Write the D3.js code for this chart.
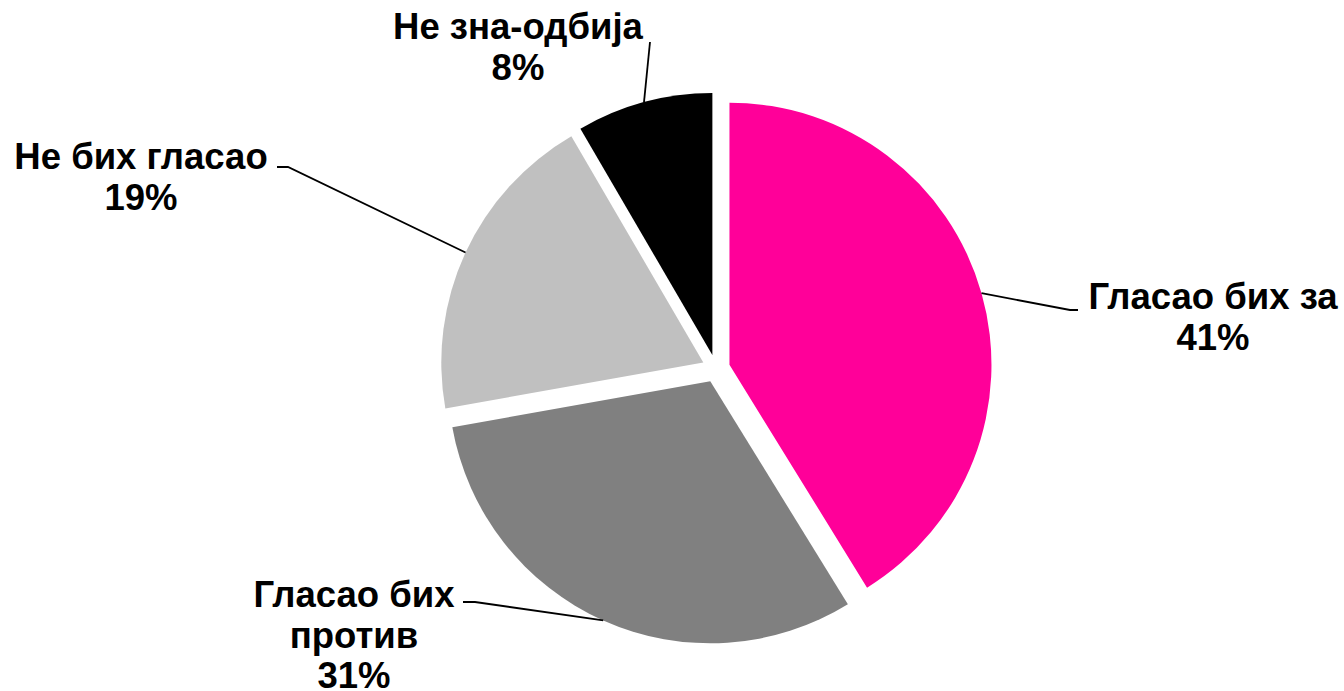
<!DOCTYPE html>
<html>
<head>
<meta charset="utf-8">
<script src="https://cdn.jsdelivr.net/npm/d3@7"></script>
<style>
    body { margin: 0; background: #ffffff; }
    svg { display: block; }
</style>
</head>
<body>
<svg id="drawing_region"></svg>
<script>
const categories = [ "Гласао бих за", "Гласао бих\nпротив", "Не бих гласао", "Не зна-одбија" ];
const values = [ 41.2, 31.0, 19.4, 8.4 ];
const colors = [ "#ff0099", "#808080", "#c0c0c0", "#000000" ];

// where Excel had put each label (first baseline) and the bends of its leader line
const label_layout = [
    { x: 1213, y: 309, bend: [ [ 1070, 310 ], [ 1078, 310 ] ] },
    { x: 354,  y: 607, bend: [ [ 475, 602 ], [ 463, 602 ] ] },
    { x: 141,  y: 169, bend: [ [ 288, 167 ], [ 277, 167 ] ] },
    { x: 518,  y: 39,  bend: [ [ 650, 42 ] ] }
];

class PieChart {
    constructor( config, data ) {
        this.config = {
            parent: config.parent,
            width: config.width || 256,
            height: config.height || 256,
            cx: config.cx,
            cy: config.cy,
            radius: config.radius,
            explode: config.explode || 0,
            font_size: config.font_size || 16,
            line_height: config.line_height || 20
        };
        this.data = data;
        this.init();
    }

    init() {
        let self = this;

        self.svg = d3.select( self.config.parent )
            .attr( 'width', self.config.width )
            .attr( 'height', self.config.height );

        self.chart = self.svg.append( 'g' )
            .attr( 'transform', `translate(${self.config.cx}, ${self.config.cy})` );

        self.pie = d3.pie()
            .sort( null )
            .value( d => d.value );

        self.arc = d3.arc()
            .innerRadius( 0 )
            .outerRadius( self.config.radius );

        self.line = d3.line();
    }

    update() {
        let self = this;
        self.arcs = self.pie( self.data );
        self.arcs.forEach( a => {
            const mid = ( a.startAngle + a.endAngle ) / 2;
            a.dx = Math.sin( mid ) * self.config.explode;
            a.dy = -Math.cos( mid ) * self.config.explode;
            a.ex = a.dx + Math.sin( mid ) * self.config.radius;
            a.ey = a.dy - Math.cos( mid ) * self.config.radius;
        });
        self.render();
    }

    render() {
        let self = this;

        self.chart.selectAll( "path.slice" )
            .data( self.arcs )
            .enter()
            .append( "path" )
            .attr( "class", "slice" )
            .attr( "transform", d => `translate(${d.dx}, ${d.dy})` )
            .attr( "d", self.arc )
            .attr( "fill", d => d.data.color );

        self.chart.selectAll( "path.leader" )
            .data( self.arcs )
            .enter()
            .append( "path" )
            .attr( "class", "leader" )
            .attr( "d", d => {
                const pts = [ [ d.ex, d.ey ] ].concat(
                    d.data.layout.bend.map( p => [ p[0] - self.config.cx, p[1] - self.config.cy ] ) );
                return self.line( pts );
            })
            .attr( "fill", "none" )
            .attr( "stroke", "#000" )
            .attr( "stroke-width", 1.8 );

        const labels = self.svg.selectAll( "text.label" )
            .data( self.arcs )
            .enter()
            .append( "text" )
            .attr( "class", "label" )
            .attr( "text-anchor", "middle" )
            .style( "font-family", "'Liberation Sans', Arial, sans-serif" )
            .style( "font-weight", "bold" )
            .style( "font-size", self.config.font_size + "px" )
            .attr( "fill", "#000" );

        labels.each( function( d ) {
            const lines = d.data.category.split( "\n" ).concat( [ Math.round( d.data.value ) + "%" ] );
            d3.select( this ).selectAll( "tspan" )
                .data( lines )
                .enter()
                .append( "tspan" )
                .attr( "x", d.data.layout.x )
                .attr( "y", ( t, i ) => d.data.layout.y + i * self.config.line_height )
                .text( t => t );
        });
    }
}

const data = categories.map( ( c, i ) => ({
    category: c,
    value: values[i],
    color: colors[i],
    layout: label_layout[i]
}));

const chart = new PieChart( {
    parent: '#drawing_region',
    width: 1344,
    height: 691,
    cx: 716,
    cy: 368.5,
    radius: 262,
    explode: 14,
    font_size: 36.5,
    line_height: 40.5
}, data );
chart.update();
</script>
</body>
</html>
